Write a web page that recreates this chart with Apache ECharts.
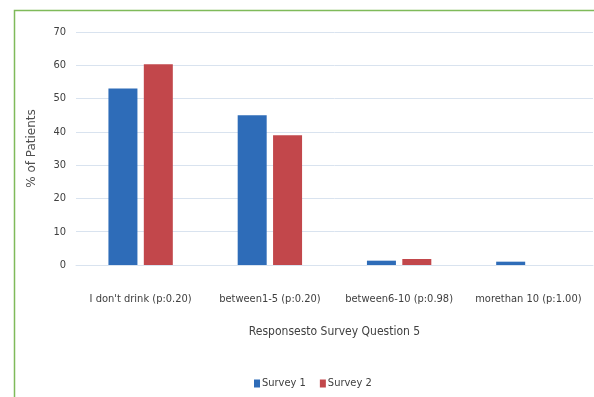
<!DOCTYPE html>
<html>
<head>
<meta charset="utf-8">
<script src="https://cdn.jsdelivr.net/npm/echarts@6/dist/echarts.min.js"></script>
<style>
  html, body { margin: 0; padding: 0; background: #fff; }
  #chart { width: 594px; height: 397px; }
</style>
</head>
<body>
<div id="chart"></div>
<script>
// data
const categories = ['I don\'t drink (p:0.20)', 'between1-5 (p:0.20)', 'between6-10 (p:0.98)', 'morethan 10 (p:1.00)']
const survey1 = [53, 45, 1.3, 1.0]
const survey2 = [60.3, 39, 1.8, 0]
const yTicks = [0, 10, 20, 30, 40, 50, 60, 70]

const FONT = '"Liberation Sans Narrow", "DejaVu Sans Condensed", Arial, sans-serif'
const TEXT = '#404040'

const chart = echarts.init(document.getElementById('chart'))

chart.setOption({
  animation: false,
  textStyle: { fontFamily: FONT },
  grid: { left: 76, right: 1, top: 32, bottom: 132 },
  legend: {
    data: ['Survey 1', 'Survey 2'],
    left: 249,
    top: 373,
    itemWidth: 6,
    itemHeight: 8,
    itemGap: 14,
    icon: 'rect',
    textStyle: { fontSize: 11, color: TEXT, fontFamily: FONT, padding: [0, 0, 0, -3] },
  },
  xAxis: {
    type: 'category',
    data: categories,
    name: 'Responsesto Survey Question 5',
    nameLocation: 'middle',
    nameGap: 61,
    nameTextStyle: { fontSize: 12, color: TEXT, fontFamily: FONT },
    axisLine: { show: true, lineStyle: { color: '#d9e3ef', width: 1 } },
    axisTick: { show: false },
    axisLabel: { fontSize: 11, color: TEXT, margin: 29, interval: 0 },
  },
  yAxis: {
    type: 'value',
    min: 0,
    max: 70,
    interval: 10,
    name: '% of Patients',
    nameLocation: 'middle',
    nameGap: 38,
    nameTextStyle: { fontSize: 12, color: '#505050', fontFamily: 'DejaVu Sans, sans-serif' },
    axisLine: { show: false },
    axisTick: { show: false },
    axisLabel: {
      fontSize: 11,
      color: TEXT,
      margin: 10,
      formatter: v => (yTicks.includes(v) ? String(v) : ''),
    },
    splitLine: { lineStyle: { color: '#d9e3ef', width: 1 } },
  },
  series: [
    {
      name: 'Survey 1',
      type: 'bar',
      data: survey1,
      barWidth: 29,
      barGap: '22%',
      itemStyle: { color: '#2e6cb8' },
    },
    {
      name: 'Survey 2',
      type: 'bar',
      data: survey2,
      barWidth: 29,
      itemStyle: { color: '#c2474b' },
    },
  ],
  graphic: [
    {
      type: 'polyline',
      shape: { points: [[14.5, 397], [14.5, 10.5], [594, 10.5]] },
      style: { stroke: '#7fba5a', lineWidth: 1.5, fill: null },
    },
  ],
})
</script>
</body>
</html>
